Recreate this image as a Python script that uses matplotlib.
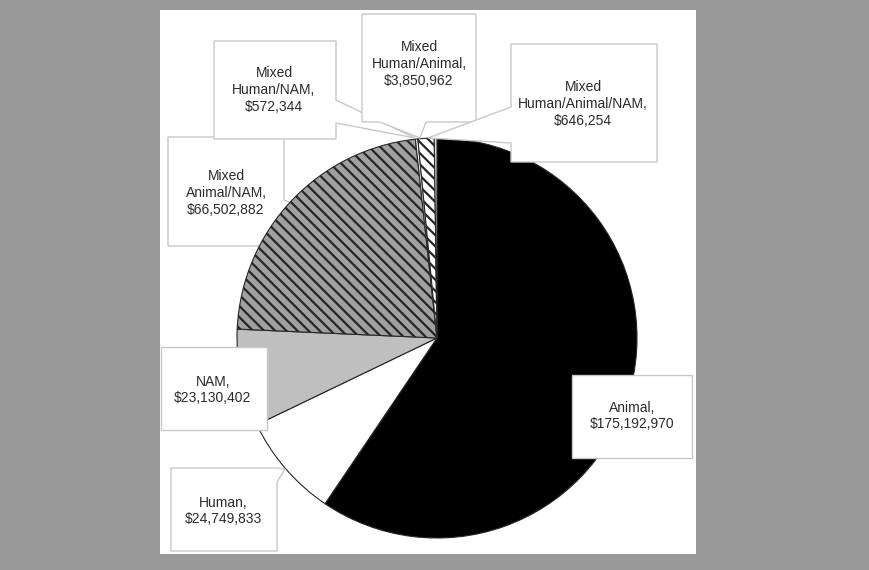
import matplotlib
matplotlib.use("Agg")
import matplotlib.pyplot as plt
from matplotlib.patches import Polygon, Rectangle

# ---- data ----
categories = ["Animal", "Human", "NAM", "Mixed\nAnimal/NAM", "Mixed\nHuman/NAM",
              "Mixed\nHuman/Animal", "Mixed\nHuman/Animal/NAM"]
values = [175192970, 24749833, 23130402, 66502882, 572344, 3850962, 646254]
face_colors = ["#000000", "#ffffff", "#bfbfbf", "#a0a0a0", "#ffffff", "#ffffff", "#d9d9d9"]
hatches = [None, None, None, "\\\\\\", None, "\\\\\\", None]

plt.rcParams["hatch.linewidth"] = 1.6
plt.rcParams["font.family"] = ["Liberation Sans", "DejaVu Sans"]

W, H = 870, 570
fig = plt.figure(figsize=(W / 100, H / 100), dpi=100)
fig.patch.set_facecolor("#999999")
ax = fig.add_axes([0, 0, 1, 1])

# white chart panel
ax.add_patch(Rectangle((160, 10), 536, 544, facecolor="white", edgecolor="none", zorder=0))

# pie (pixel coordinates, y axis inverted -> counterclock=True draws visually clockwise)
wedges, _ = ax.pie(values, colors=face_colors, startangle=-90, counterclock=True,
                   center=(437, 338), radius=200,
                   wedgeprops=dict(edgecolor="#262626", linewidth=0.8))
for w, h in zip(wedges, hatches):
    w.set_zorder(2)
    if h:
        w.set_hatch(h)

ax.set_xlim(0, W)
ax.set_ylim(H, 0)
ax.set_aspect("auto")
ax.axis("off")

# ---- callouts (layout in pixel coordinates) ----
box_style = dict(facecolor="white", edgecolor="#c8c8c8", linewidth=1.0)
callouts = [
    ([(168, 137), (284, 137), (284, 200), (310, 210), (284, 228), (284, 246), (168, 246)], 1),   # Mixed Animal/NAM
    ([(572, 375), (692, 375), (692, 458), (572, 458)], 3),                                         # Animal
    ([(171, 468), (277, 468), (285, 469), (277, 482), (277, 551), (171, 551)], 3),                 # Human
    ([(161, 347), (267, 347), (267, 430), (161, 430)], 3),                                         # NAM
    ([(214, 41), (336, 41), (336, 100), (415, 138), (336, 123), (336, 139), (214, 139)], 3),       # Mixed Human/NAM
    ([(362, 14), (476, 14), (476, 122), (426, 122), (420, 138), (380, 122), (362, 122)], 3),       # Mixed Human/Animal
    ([(511, 44), (657, 44), (657, 162), (511, 162), (511, 143), (428, 138), (511, 107)], 3),       # Mixed Human/Animal/NAM
]
for poly, z in callouts:
    ax.add_patch(Polygon(poly, closed=True, zorder=z, **box_style))

# label text positions (pixel centres) per category
label_pos = [(632, 416), (223, 511), (213, 390), (226, 193), (274, 90), (419, 64), (583, 104)]
label_z = [4, 4, 4, 1.5, 4, 4, 4]
for cat, val, (x, y), z in zip(categories, values, label_pos, label_z):
    ax.text(x, y, f"{cat},\n${val:,}", ha="center", va="center", fontsize=10,
            color="#2b2b2b", linespacing=1.25, zorder=z)

fig.savefig("out.png", dpi=100, facecolor=fig.get_facecolor())
